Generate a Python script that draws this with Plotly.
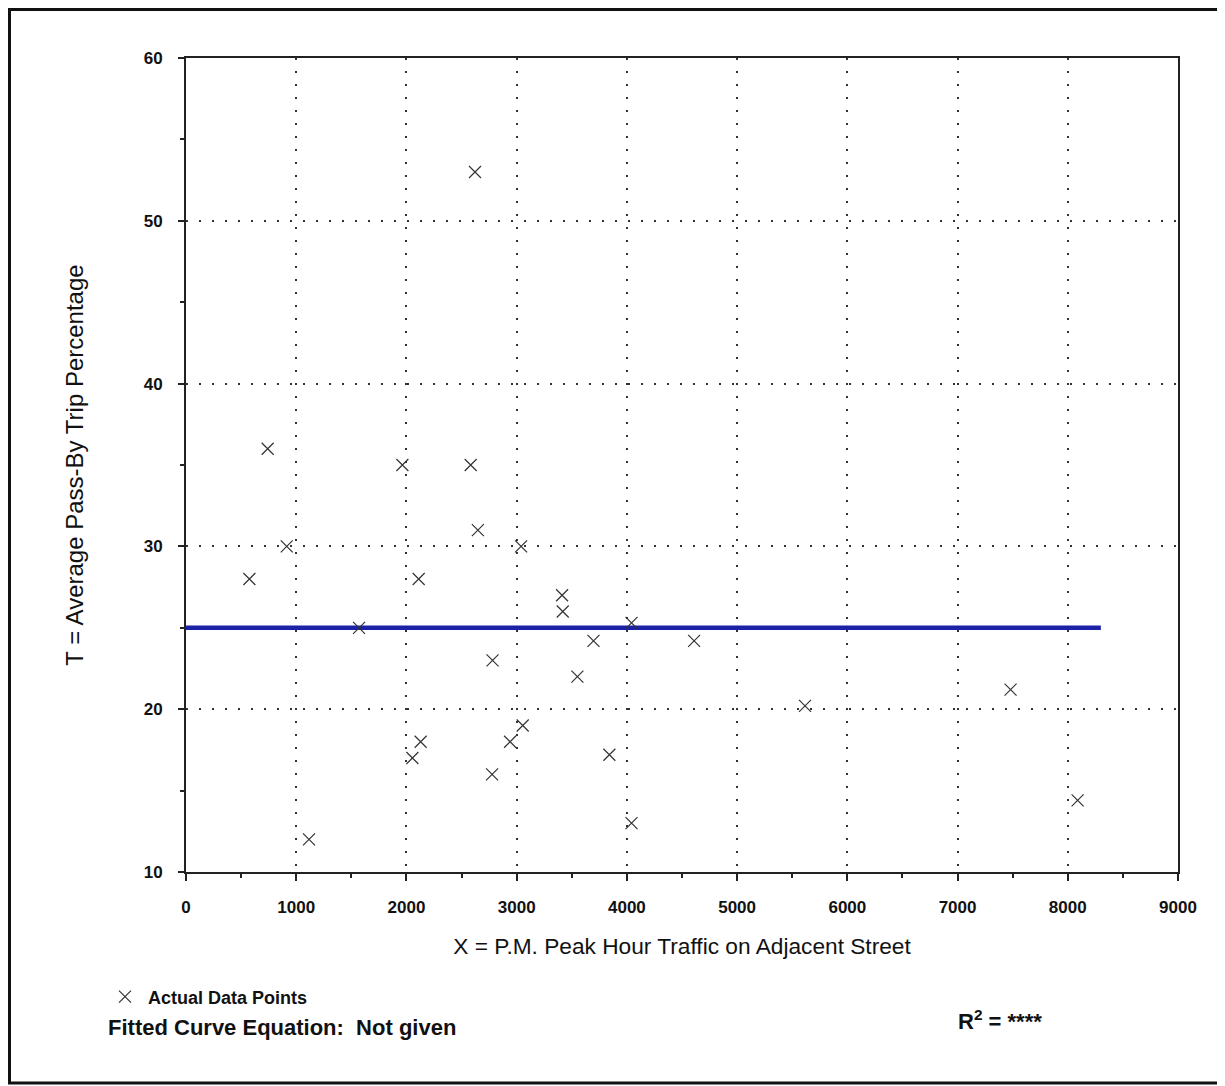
import plotly.graph_objects as go

# Actual data points (X = P.M. peak hour traffic, T = average pass-by trip %)
traffic = [575, 741, 914, 1116, 1570, 1963, 2054, 2111, 2129, 2583, 2622, 2648,
           2777, 2781, 2940, 3040, 3055, 3412, 3418, 3551, 3697, 3841, 4042, 4042,
           4610, 5616, 7481, 8089]
pass_by = [28, 36, 30, 12, 25, 35, 17, 28, 18, 35, 53, 31,
           16, 23, 18, 30, 19, 27, 26, 22, 24.2, 17.2, 25.3, 13,
           24.2, 20.2, 21.2, 14.4]

# Hand-drawn average line
fit_x = [0, 8300]
fit_y = [25.0, 25.0]

x_ticks = [0, 1000, 2000, 3000, 4000, 5000, 6000, 7000, 8000, 9000]
y_ticks = [10, 20, 30, 40, 50, 60]

FONT = "Liberation Sans, Arial, sans-serif"

fig = go.Figure()
fig.add_trace(go.Scatter(
    x=fit_x, y=fit_y, mode="lines",
    line=dict(color="#1c22a8", width=4.5),
    showlegend=False, hoverinfo="skip"))
fig.add_trace(go.Scatter(
    x=traffic, y=pass_by, mode="markers", name="<b>Actual Data Points</b>",
    marker=dict(symbol="x-thin", size=12, color="#333333",
                line=dict(color="#333333", width=1.2))))

grid = dict(showgrid=True, gridcolor="#333333", gridwidth=1.5, griddash="2px,11px")

fig.update_xaxes(
    range=[0, 9000], tickvals=x_ticks, ticktext=[str(v) for v in x_ticks],
    showline=True, linecolor="#222222", linewidth=2, mirror=True,
    ticks="outside", ticklen=7, tickcolor="#222222", tickwidth=1.5,
    minor=dict(dtick=500, ticks="outside", ticklen=4, tickcolor="#222222", showgrid=False),
    tickfont=dict(family=FONT, size=17, color="#111111", weight="bold"),
    ticklabelstandoff=12, zeroline=False,
    title=dict(text="X = P.M. Peak Hour Traffic on Adjacent Street",
               font=dict(family=FONT, size=22.7, color="#111111"), standoff=22),
    **grid)
fig.update_yaxes(
    range=[10, 60], tickvals=y_ticks,
    showline=True, linecolor="#222222", linewidth=2, mirror=True,
    ticks="outside", ticklen=6, tickcolor="#222222", tickwidth=1.5,
    minor=dict(dtick=5, ticks="outside", ticklen=4, tickcolor="#222222", showgrid=False),
    tickfont=dict(family=FONT, size=17, color="#111111", weight="bold"),
    ticklabelstandoff=12, zeroline=False,
    title=dict(text="T = Average Pass-By Trip Percentage",
               font=dict(family=FONT, size=24, color="#111111"), standoff=53),
    **grid)

# page has an 8px body margin; layout in page coordinates
OFF = 8
W, H = 1225 - OFF, 1086 - OFF
L, T = 186 - OFF, 58 - OFF
R = W - (1178 - OFF)
B = H - (872 - OFF)
pw, ph = W - L - R, H - T - B

def px(x):
    return (x - OFF - L) / pw

def py(y):
    return (H - B - (y - OFF)) / ph

fig.update_layout(
    width=W, height=H,
    margin=dict(l=L, r=R, t=T, b=B),
    paper_bgcolor="white", plot_bgcolor="white",
    font=dict(family=FONT, color="#111111"),
    legend=dict(x=px(102), y=py(997), xanchor="left", yanchor="middle",
                bgcolor="rgba(0,0,0,0)", font=dict(family=FONT, size=18, color="#111111"),
                itemwidth=36),
    annotations=[
        dict(text="<b>Fitted Curve Equation:  Not given</b>", xref="paper", yref="paper",
             x=px(106), y=py(1027), xanchor="left", yanchor="middle", showarrow=False,
             font=dict(family=FONT, size=22, color="#111111")),
        dict(text="<b>R<sup>2</sup> = ****</b>", xref="paper", yref="paper",
             x=px(956), y=py(1020), xanchor="left", yanchor="middle", showarrow=False,
             font=dict(family=FONT, size=22, color="#111111")),
    ],
    shapes=[dict(type="rect", xref="paper", yref="paper",
                 x0=px(OFF + 1.5), x1=px(1222), y0=py(1083), y1=py(OFF + 1.5),
                 line=dict(color="#111111", width=3), fillcolor="rgba(0,0,0,0)")],
)

fig.write_html("out.html")
